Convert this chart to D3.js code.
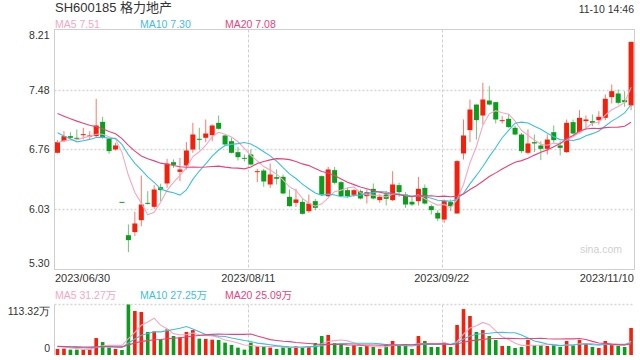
<!DOCTYPE html>
<html><head><meta charset="utf-8">
<script src="https://cdn.jsdelivr.net/npm/d3@7/dist/d3.min.js"></script>
<style>
html,body{margin:0;padding:0;background:#fff;}
svg{display:block;font-family:"Liberation Sans",Arial,"Noto Sans CJK SC",sans-serif;}
</style></head><body>
<svg id="c" width="640" height="360"></svg>
<script>
// ---- data ----
const title = "SH600185 格力地产";
const timeStamp = "11-10 14:46";
const dateLabels = ["2023/06/30", "2023/08/11", "2023/09/22", "2023/11/10"];
const dateLabelIdx = [0, 30, 60, 89];
const priceTicks = [8.21, 7.48, 6.76, 6.03, 5.30];
const volTicks = [113.32, 0];
const volTickLabels = ["113.32万", "0"];
const maLegend = ["MA5 7.51", "MA10 7.30", "MA20 7.08"];
const volMaLegend = ["MA5 31.27万", "MA10 27.25万", "MA20 25.09万"];

const openP = [6.715,6.856,6.917,6.897,6.929,6.909,6.917,7.090,6.885,6.755,
  6.12,5.716,5.753,5.898,6.108,6.060,6.298,6.343,6.601,6.484,
  6.561,6.755,6.885,6.897,6.929,7.078,6.925,6.856,6.723,6.654,
  6.695,6.480,6.500,6.331,6.420,6.424,6.181,6.108,6.120,6.007,
  6.129,6.432,6.189,6.505,6.359,6.262,6.205,6.250,6.189,6.278,
  6.141,6.209,6.141,6.323,6.209,6.121,6.129,6.290,6.068,5.987,
  5.906,6.117,5.979,6.707,6.990,7.300,7.167,7.349,7.329,7.099,
  7.127,7.018,6.937,6.715,6.844,6.804,6.763,6.965,6.804,6.723,
  7.087,6.965,7.099,7.099,7.111,7.139,7.390,7.434,7.353,7.289];
const highP = [6.868,6.977,6.965,6.998,7.018,6.977,7.370,7.151,6.897,6.836,
  6.12,5.846,6.000,6.440,6.250,6.323,6.340,6.642,6.634,6.654,
  6.844,7.078,7.018,7.119,7.058,7.167,6.930,6.897,6.788,6.695,
  6.755,6.521,6.521,6.585,6.513,6.452,6.270,6.278,6.157,6.209,
  6.157,6.440,6.545,6.545,6.371,6.290,6.278,6.270,6.270,6.343,
  6.209,6.250,6.492,6.351,6.238,6.181,6.424,6.331,6.088,6.020,
  6.149,6.149,6.626,7.119,7.361,7.300,7.564,7.523,7.330,7.159,
  7.188,7.046,6.957,6.998,6.937,6.856,6.937,7.046,6.856,7.119,
  7.119,7.232,7.167,7.180,7.220,7.422,7.543,7.483,7.462,8.060];
const lowP = [6.707,6.844,6.877,6.877,6.877,6.877,6.909,6.885,6.703,6.743,
  6.12,5.510,5.704,5.825,6.088,6.036,6.129,6.290,6.533,6.371,
  6.513,6.715,6.755,6.844,6.856,6.998,6.796,6.707,6.622,6.610,
  6.561,6.359,6.302,6.290,6.331,6.210,6.060,6.060,5.967,5.987,
  6.020,6.197,6.181,6.331,6.181,6.169,6.181,6.149,6.100,6.149,
  6.108,6.076,6.129,6.181,6.048,6.068,6.076,6.088,5.967,5.886,
  5.866,6.007,5.979,6.634,6.844,6.876,7.058,7.289,7.070,7.070,
  7.018,6.925,6.715,6.695,6.723,6.626,6.695,6.836,6.682,6.715,
  6.937,6.949,7.006,7.038,7.058,7.111,7.313,7.300,7.273,7.232];
const closeP = [6.844,6.917,6.897,6.890,6.941,6.925,7.046,6.897,6.735,6.804,
  6.12,5.656,5.858,6.088,6.096,6.270,6.262,6.585,6.569,6.513,
  6.743,6.937,6.877,6.949,7.046,7.006,6.816,6.715,6.662,6.646,
  6.573,6.492,6.367,6.452,6.400,6.222,6.068,6.149,5.975,6.100,
  6.048,6.209,6.513,6.351,6.189,6.189,6.262,6.161,6.238,6.161,
  6.181,6.157,6.331,6.238,6.088,6.088,6.278,6.100,6.020,5.918,
  6.129,6.068,6.614,6.925,7.240,7.111,7.361,7.300,7.119,7.111,
  7.026,6.937,6.735,6.828,6.828,6.763,6.876,6.868,6.775,7.078,
  6.949,7.139,7.119,7.078,7.151,7.370,7.462,7.321,7.329,8.060];
// volume in 万 (10k shares)
const volume = [13.5,14.2,12,12,12,12.7,38,29,16.5,13.5,
  11.2,113.32,98.7,96.5,51.6,53,35,57.6,42.6,39.6,
  51.6,56,36.7,36,34.4,33.7,27.7,22.4,16.5,12,
  27.7,19.4,20.2,16.5,13.5,17.2,17.2,19.4,18,19.4,
  27,42.6,44.9,27,26,18,21.7,18,20.2,18,
  13.5,24.7,31.4,21,20.2,13.5,42.6,31.4,18,18,
  27.7,18,67.3,103,87.5,51.6,56,42.6,33.7,20.2,
  20.2,15.7,18,33.7,21.7,21.7,20.2,21.7,18,31.4,
  21.7,33.7,24.7,18,15.7,31.4,24.7,20.2,18,60.6];
// closes / volumes before the visible window (estimated from where the MA lines start)
const priorCloses = [7.55,7.50,7.48,7.45,7.40,7.42,7.38,7.40,7.35,7.30,
  7.30,7.25,7.25,6.80,6.77,6.82,6.85,6.88,6.81];
const priorVolumes = [18,20,19,21,17,19,20,18,22,19,21,18,20,19,17,22,21,19,21.5];

const maPeriods = [5, 10, 20];
const maColors = ["#f7a6c2", "#3cc0df", "#e6437b"];
const upColor = "#f5200c", downColor = "#0b9e1d";

// ---- helpers ----
function movingAvg(series, prior, n) {
  const all = prior.concat(series);
  return series.map((_, i) => {
    const j = i + prior.length;
    return d3.mean(all.slice(j - n + 1, j + 1));
  });
}
const N = closeP.length;
const idx = d3.range(N);
function isUp(i) {
  if (closeP[i] > openP[i]) return true;
  if (closeP[i] < openP[i]) return false;
  const prev = i > 0 ? closeP[i - 1] : priorCloses[priorCloses.length - 1];
  return closeP[i] >= prev;
}

// ---- layout ----
const L = 54.5, R = 634.5, T = 29.5, B = 269.5;
const vT = 304.5, vB = 355;
const svg = d3.select("#c");

const x = d3.scaleBand().domain(idx).range([54.3, 634.3]).paddingInner(0.22).paddingOuter(0.11);
const y = d3.scaleLinear().domain([5.30, 8.21]).range([B, T]);
const v = d3.scaleLinear().domain([0, 113.32]).range([vB, vT]);
const cx = i => x(i) + x.bandwidth() / 2;

// text
svg.append("text").attr("x", 55).attr("y", 12).attr("font-size", 13).attr("fill", "#333").text(title);
svg.append("text").attr("x", 634).attr("y", 12.5).attr("font-size", 10.5).attr("fill", "#333")
  .attr("text-anchor", "end").text(timeStamp);
const legendX = [55, 140, 225];
maLegend.forEach((t, k) => svg.append("text").attr("x", legendX[k]).attr("y", 27.5)
  .attr("font-size", 10.5).attr("fill", maColors[k]).text(t));
volMaLegend.forEach((t, k) => svg.append("text").attr("x", legendX[k]).attr("y", 298.5)
  .attr("font-size", 10.5).attr("fill", maColors[k]).text(t));

// grid
const grid = svg.append("g");
priceTicks.slice(1, -1).forEach(p => grid.append("line")
  .attr("x1", L).attr("x2", R).attr("y1", Math.round(y(p)) + 0.5).attr("y2", Math.round(y(p)) + 0.5)
  .attr("stroke", "#d6d6d6").attr("stroke-width", 1.3).attr("stroke-dasharray", "2,2"));
dateLabelIdx.slice(1, -1).forEach(i => {
  const xx = Math.round(x(i)) + 0.5;
  grid.append("line").attr("x1", xx).attr("x2", xx).attr("y1", T).attr("y2", B)
    .attr("stroke", "#cfcfcf").attr("stroke-dasharray", "3,2");
  grid.append("line").attr("x1", xx).attr("x2", xx).attr("y1", vT).attr("y2", vB)
    .attr("stroke", "#cfcfcf").attr("stroke-dasharray", "3,2");
});
// frame
svg.append("rect").attr("x", L).attr("y", T).attr("width", R - L).attr("height", B - T)
  .attr("fill", "none").attr("stroke", "#cfcfcf");
svg.append("line").attr("x1", L).attr("x2", R).attr("y1", vT).attr("y2", vT)
  .attr("stroke", "#d6d6d6").attr("stroke-width", 1.3).attr("stroke-dasharray", "2,2");
svg.append("line").attr("x1", L).attr("x2", L).attr("y1", vT).attr("y2", vB).attr("stroke", "#cfcfcf");

// price axis
const ya = svg.append("g").attr("transform", `translate(${L},0)`)
  .call(d3.axisLeft(y).tickValues(priceTicks).tickSize(0).tickPadding(5).tickFormat(d3.format(".2f")));
ya.select(".domain").remove();
ya.selectAll("text").attr("font-size", 10.5).attr("fill", "#333").attr("font-family", null)
  .attr("transform", (d, k) => k === 0 ? "translate(0,5.5)" : (k === priceTicks.length - 1 ? "translate(0,-6)" : null));

// volume axis
const va = svg.append("g").attr("transform", `translate(${L},0)`)
  .call(d3.axisLeft(v).tickValues(volTicks).tickSize(0).tickPadding(4.5).tickFormat((d, k) => volTickLabels[k]));
va.select(".domain").remove();
va.selectAll("text").attr("font-size", 10.5).attr("fill", "#333").attr("font-family", null)
  .attr("transform", (d, k) => k === 0 ? "translate(0,6.5)" : "translate(0,-6.5)");

// date labels
dateLabelIdx.forEach((i, k) => {
  const anchor = k === 0 ? "start" : (k === dateLabels.length - 1 ? "end" : "middle");
  const xx = k === 0 ? 55 : (k === dateLabels.length - 1 ? 634 : x(i));
  svg.append("text").attr("x", xx).attr("y", 282).attr("font-size", 11).attr("fill", "#333")
    .attr("text-anchor", anchor).text(dateLabels[k]);
});

// watermark
svg.append("text").attr("x", 622).attr("y", 253).attr("text-anchor", "end").attr("font-size", 10.5)
  .attr("fill", "#cfcfcf").text("sina.com");

// candles
const cg = svg.append("g");
cg.selectAll("line.wick").data(idx).join("line").attr("class", "wick")
  .attr("x1", cx).attr("x2", cx).attr("y1", i => y(highP[i])).attr("y2", i => y(lowP[i]))
  .attr("stroke", i => isUp(i) ? upColor : downColor).attr("stroke-opacity", 0.6);
cg.selectAll("rect.body").data(idx).join("rect").attr("class", "body")
  .attr("x", i => x(i)).attr("width", x.bandwidth())
  .attr("y", i => y(Math.max(openP[i], closeP[i])))
  .attr("height", i => Math.max(1, Math.abs(y(openP[i]) - y(closeP[i]))))
  .attr("fill", i => isUp(i) ? upColor : downColor);

// price MA lines
maPeriods.forEach((n, k) => {
  const m = movingAvg(closeP, priorCloses, n);
  svg.append("path").datum(idx).attr("fill", "none").attr("stroke", maColors[k]).attr("stroke-width", 1.1)
    .attr("d", d3.line().x(cx).y(i => y(m[i])));
});

// volume bars
const vw = x.bandwidth() * 0.72;
svg.append("g").selectAll("rect").data(idx).join("rect")
  .attr("x", i => cx(i) - vw / 2).attr("width", vw)
  .attr("y", i => v(volume[i])).attr("height", i => vB - v(volume[i]))
  .attr("fill", i => isUp(i) ? upColor : downColor);

// volume MA lines
maPeriods.forEach((n, k) => {
  const m = movingAvg(volume, priorVolumes, n);
  svg.append("path").datum(idx).attr("fill", "none").attr("stroke", maColors[k]).attr("stroke-width", 1.1)
    .attr("d", d3.line().x(cx).y(i => v(m[i])));
});
</script>
</body></html>
